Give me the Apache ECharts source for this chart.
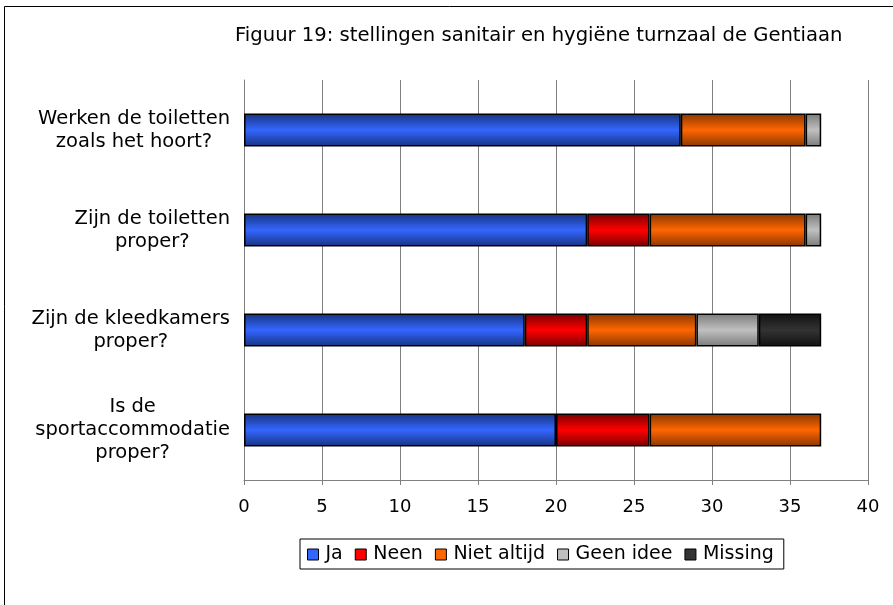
<!DOCTYPE html>
<html>
<head>
<meta charset="utf-8">
<script src="https://cdn.jsdelivr.net/npm/echarts@6/dist/echarts.min.js"></script>
<style>
  html, body { margin: 0; padding: 0; background: #fff; }
  #main { width: 893px; height: 605px; }
</style>
</head>
<body>
<div id="main"></div>
<script>
// gegevens
var categories = [
    'Werken de toiletten\nzoals het hoort?',
    'Zijn de toiletten\nproper?',
    'Zijn de kleedkamers\nproper?',
    'Is de\nsportaccommodatie\nproper?'
];
var seriesNames = ['Ja', 'Neen', 'Niet altijd', 'Geen idee', 'Missing'];
var ja         = [28, 22, 18, 20];
var neen       = [0, 4, 4, 6];
var nietAltijd = [8, 10, 7, 11];
var geenIdee   = [1, 1, 4, 0];
var missing    = [0, 0, 4, 0];
var xTicks     = [0, 5, 10, 15, 20, 25, 30, 35, 40];

// kleuren: [donker rand, licht midden]
var kleuren = [
    ['#17337f', '#3366ff'],
    ['#7a0000', '#ff0000'],
    ['#8a3700', '#ff6600'],
    ['#7a7a7a', '#c0c0c0'],
    ['#111111', '#333333']
];

var font = 'DejaVu Sans, Verdana, sans-serif';

function verloop(c) {
    return new echarts.graphic.LinearGradient(0, 0, 0, 1, [
        {offset: 0, color: c[0]},
        {offset: 0.5, color: c[1]},
        {offset: 1, color: c[0]}
    ]);
}

var alleData = [ja, neen, nietAltijd, geenIdee, missing];
var series = [];
for (var i = 0; i < seriesNames.length; i++) {
    series.push({
        name: seriesNames[i],
        type: 'bar',
        stack: 'totaal',
        barWidth: 33,
        data: alleData[i].map(function (v) { return v === 0 ? '-' : v; }),
        itemStyle: {
            color: verloop(kleuren[i]),
            borderColor: '#000',
            borderWidth: 1.5
        },
        emphasis: {disabled: true}
    });
}

var myChart = echarts.init(document.getElementById('main'));
var option = {
    animation: false,
    title: {
        text: 'Figuur 19: stellingen sanitair en hygiëne turnzaal de Gentiaan',
        left: 230,
        top: 21,
        textStyle: {
            fontFamily: font,
            fontWeight: 'normal',
            fontSize: 19.6,
            color: '#000'
        }
    },
    graphic: [{
        type: 'rect',
        shape: {x: 4.5, y: 6.5, width: 1000, height: 1000},
        style: {fill: 'none', stroke: '#000', lineWidth: 1}
    }],
    grid: {
        left: 244,
        right: 25,
        top: 80,
        bottom: 125
    },
    legend: {
        data: seriesNames.map(function (n, i) {
            return {name: n, itemStyle: {color: kleuren[i][1], borderColor: '#000', borderWidth: 1}};
        }),
        bottom: 36,
        left: 300,
        icon: 'rect',
        itemWidth: 11,
        itemHeight: 11,
        itemGap: 12,
        borderColor: '#000',
        borderWidth: 1,
        borderRadius: 0,
        padding: [6, 10, 5, 7],
        textStyle: {
            fontFamily: font,
            fontSize: 19,
            color: '#000',
            padding: [0, 0, 0, 2]
        }
    },
    xAxis: {
        type: 'value',
        min: xTicks[0],
        max: xTicks[xTicks.length - 1],
        interval: 5,
        axisLine: {show: true, lineStyle: {color: '#808080', width: 1}},
        axisTick: {show: true, length: 5, lineStyle: {color: '#808080'}},
        splitLine: {show: true, lineStyle: {color: '#808080', width: 1}},
        axisLabel: {
            margin: 18,
            fontFamily: font,
            fontSize: 18,
            color: '#000'
        }
    },
    yAxis: {
        type: 'category',
        inverse: true,
        data: categories,
        axisLine: {show: true, lineStyle: {color: '#808080'}},
        axisTick: {show: false},
        axisLabel: {
            margin: 14,
            align: 'right',
            formatter: function (v) {
                return v.split('\n').map(function (r) { return '{c|' + r + '}'; }).join('\n');
            },
            rich: {
                c: {
                    align: 'center',
                    fontFamily: font,
                    fontSize: 19.5,
                    lineHeight: 23,
                    color: '#000'
                }
            }
        }
    },
    series: series
};
myChart.setOption(option);
</script>
</body>
</html>
